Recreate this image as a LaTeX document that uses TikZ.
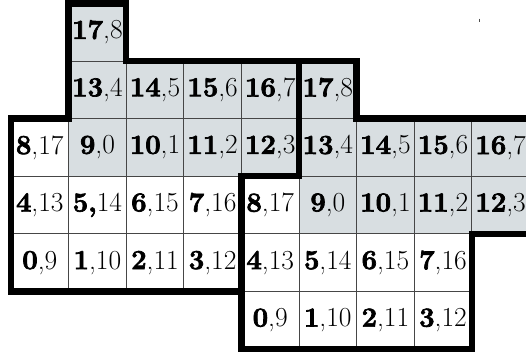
\documentclass[tikz,border=0pt]{standalone}
\usepackage{fontspec}
\setmainfont{Latin Modern Roman}[BoldFeatures={FakeBold=2.5}]
\definecolor{shadegray}{RGB}{216,222,225}
\definecolor{gridline}{RGB}{70,70,70}
\newcommand\sepL{\textbf{,}}
\newcommand\sepR{,}
\begin{document}
\begin{tikzpicture}[x=1pt,y=-1pt,
  cellbox/.style={draw=gridline, line width=1pt, minimum width=57.6pt, minimum height=57.6pt,
    inner sep=0pt, outer sep=0pt, font=\fontsize{27.5}{32}\selectfont},
  shaded/.style={cellbox, fill=shadegray},
  plain/.style={cellbox, fill=white},
  outline/.style={line width=6.5pt, line join=miter, line cap=rect}]
\path[use as bounding box, clip] (0,0) rectangle (526,354);
\fill[white] (0,0) rectangle (526,354);
\foreach \g/\dx/\dy in {L/0/0, R/4/1}{
  \begin{scope}[shift={(11,3.4)}, x=57.6pt, y=-57.6pt]
  \foreach \c/\r/\a/\lab/\st in {
    1/0/17/{\textbf{17},8}/shaded,
    1/1/13/{\textbf{13},4}/shaded, 2/1/14/{\textbf{14},5}/shaded, 3/1/15/{\textbf{15},6}/shaded, 4/1/16/{\textbf{16},7}/shaded,
    0/2/8/{\textbf{8},17}/plain, 1/2/9/{\textbf{9},0}/shaded, 2/2/10/{\textbf{10},1}/shaded, 3/2/11/{\textbf{11},2}/shaded, 4/2/12/{\textbf{12},3}/shaded,
    0/3/4/{\textbf{4},13}/plain, 1/3/5/{\textbf{5}\csname sep\g\endcsname14}/plain, 2/3/6/{\textbf{6},15}/plain, 3/3/7/{\textbf{7},16}/plain,
    0/4/0/{\textbf{0},9}/plain, 1/4/1/{\textbf{1},10}/plain, 2/4/2/{\textbf{2},11}/plain, 3/4/3/{\textbf{3},12}/plain}{
    \node[\st] (\g\a) at (\c+\dx+0.5, \r+\dy+0.5) {\lab};
  }
  \end{scope}
}
\foreach \g in {L,R}{
  \draw[outline] (\g17.north west) -- (\g17.north east) -- (\g14.north west) -- (\g16.north east)
    -- (\g12.south east) -- (\g7.north east) -- (\g3.south east) -- (\g0.south west)
    -- (\g8.north west) -- (\g9.north west) -- cycle;
}
\draw[line width=1pt, gray!60!black] (479.5,18.5) -- (479.5,21.5);
\end{tikzpicture}
\end{document}
